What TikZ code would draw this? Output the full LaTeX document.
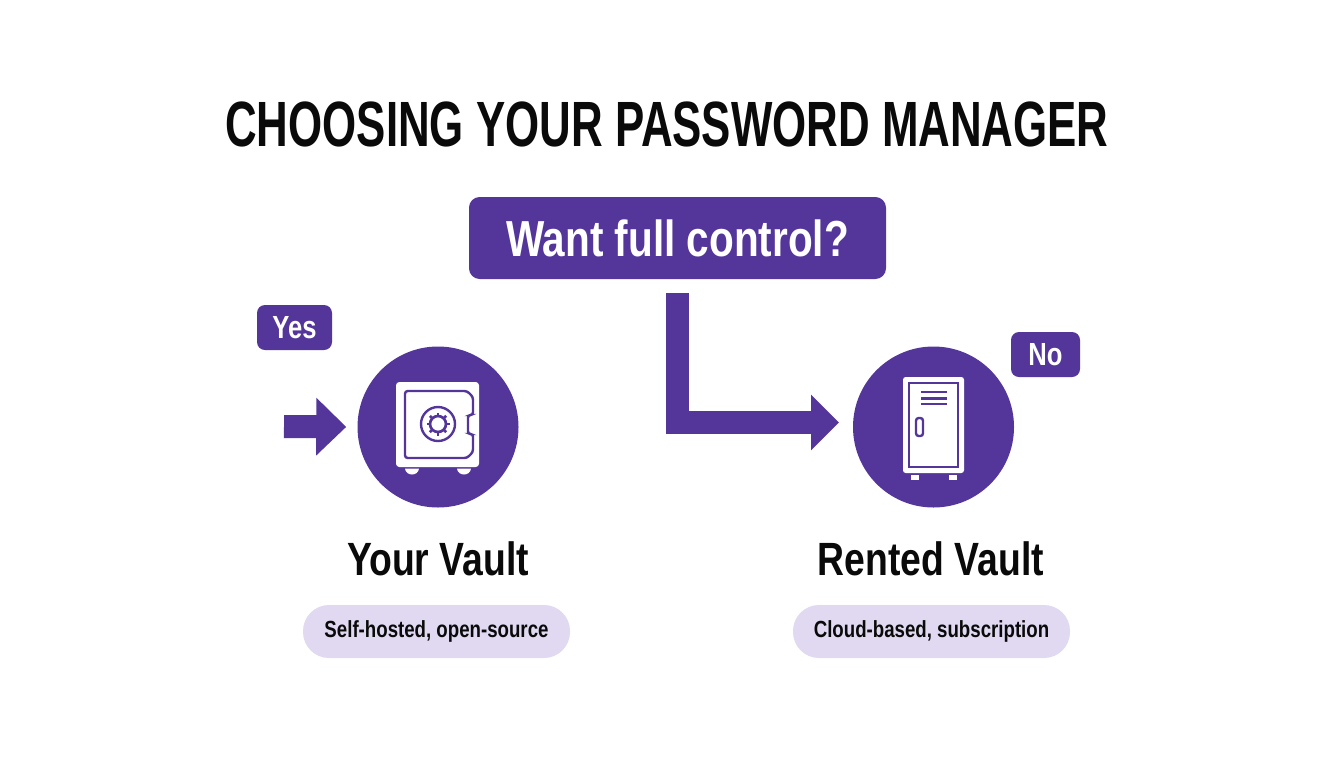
\documentclass[tikz,border=0pt]{standalone}
\usepackage{fontspec}
\setmainfont{Liberation Sans}[FakeStretch=0.8]
\newfontfamily\titlefamily{Liberation Sans}[FakeStretch=0.685]
\usetikzlibrary{arrows.meta}
\definecolor{brandpurple}{HTML}{54369A}
\definecolor{pillfill}{HTML}{E0D9F1}
\definecolor{inktext}{HTML}{0A0A0A}
\tikzset{
  titletext/.style={font=\titlefamily\fontsize{48pt}{50pt}\bfseries\selectfont,text=inktext,inner sep=0pt},
  decisionbox/.style={fill=brandpurple,rounded corners=8pt,text=white,font=\fontsize{38pt}{42pt}\bfseries\selectfont,inner sep=0pt},
  tagbox/.style={fill=brandpurple,rounded corners=6pt,text=white,font=\fontsize{24pt}{28pt}\bfseries\selectfont,inner sep=0pt},
  roundicon/.style={circle,fill=brandpurple,minimum size=120.75pt,inner sep=0pt},
  vaultname/.style={font=\fontsize{35pt}{38pt}\bfseries\selectfont,text=inktext,inner sep=0pt},
  pillbox/.style={fill=pillfill,rounded corners=19.5pt,text=inktext,font=\fontsize{17.5pt}{20pt}\bfseries\selectfont,inner sep=0pt,minimum height=39.75pt},
  flowarrow/.style={draw=brandpurple,line width=17.25pt,line join=miter},
  iconwhite/.style={fill=white,draw=none},
  iconline/.style={draw=brandpurple,line width=1.8pt,fill=none}
}
\begin{document}
\begin{tikzpicture}[x=0.75pt,y=-0.75pt]
\useasboundingbox (0,0) rectangle (1344,768);
\fill[white] (0,0) rectangle (1344,768);

\node[titletext] (title) at (667,124) {CHOOSING YOUR PASSWORD MANAGER};
\node[decisionbox,minimum width=312.75pt,minimum height=61.5pt] (decision) at (677.5,238) {Want full control?};
\node[tagbox,minimum width=56.25pt,minimum height=33.75pt] (yes) at (294.5,327.5) {Yes};
\node[tagbox,minimum width=51.75pt,minimum height=33.75pt] (no) at (1045.5,354.5) {No};
\node[roundicon] (yours) at (438,427) {};
\node[roundicon] (rented) at (933.5,427) {};
\node[vaultname] (yoursname) at (438,559) {Your Vault};
\node[vaultname] (rentedname) at (931,559) {Rented Vault};
\node[pillbox,minimum width=200.25pt] (yourspill) at (436.5,631.5) {\raisebox{-1pt}{Self-hosted, open-source}};
\node[pillbox,minimum width=207.75pt] (rentedpill) at (931.5,631.5) {\raisebox{-1pt}{Cloud-based, subscription}};

% connectors
\coordinate (yesstart) at (284,426.5);
\coordinate (rentedin) at (853,422.5);
\draw[flowarrow,-{Triangle[length=22.5pt,width=42pt]},shorten >=8.25pt] (yesstart) -- (yours.west);
\draw[flowarrow,-{Triangle[length=21pt,width=40.5pt]},shorten <=10.5pt,shorten >=10.5pt] (decision.south) |- (rentedin);

% safe icon
\fill[iconwhite,rounded corners=2.5pt] (396,382) rectangle (479,467);
\fill[iconwhite] (405,468.5) -- (419,468.5) .. controls (418,476.5) and (406,476.5) .. cycle;
\fill[iconwhite] (457,468.5) -- (471,468.5) .. controls (470,476.5) and (458,476.5) .. cycle;
\draw[iconline,rounded corners=2pt] (405,391) -- (467,391) -- (473,397) -- (473,415) -- (468,415) -- (468,434) -- (473,434) -- (473,452) -- (467,458) -- (405,458) -- cycle;
\draw[iconline] (438,424) circle[radius=17];
\draw[iconline,line width=2pt] (438,424) circle[radius=8];
\foreach \a in {0,45,...,315}{
  \draw[brandpurple,line width=2pt] (438,424) ++(\a:8) -- ++(\a:3.5);
}

% locker icon
\fill[iconwhite,rounded corners=2pt] (903,377) rectangle (964,473);
\draw[iconline,line width=2pt] (909,383) -- (958,383) -- (958,467) -- (909,467) -- cycle;
\draw[brandpurple,line width=2pt] (921,392) -- (947,392);
\draw[brandpurple,line width=2pt] (921,398.5) -- (947,398.5);
\draw[brandpurple,line width=2pt] (921,404) -- (947,404);
\draw[iconline,rounded corners=2pt] (916,418) rectangle (923,436);
\fill[iconwhite] (911,475) rectangle (919,480);
\fill[iconwhite] (949,475) rectangle (957,480);
\end{tikzpicture}
\end{document}
